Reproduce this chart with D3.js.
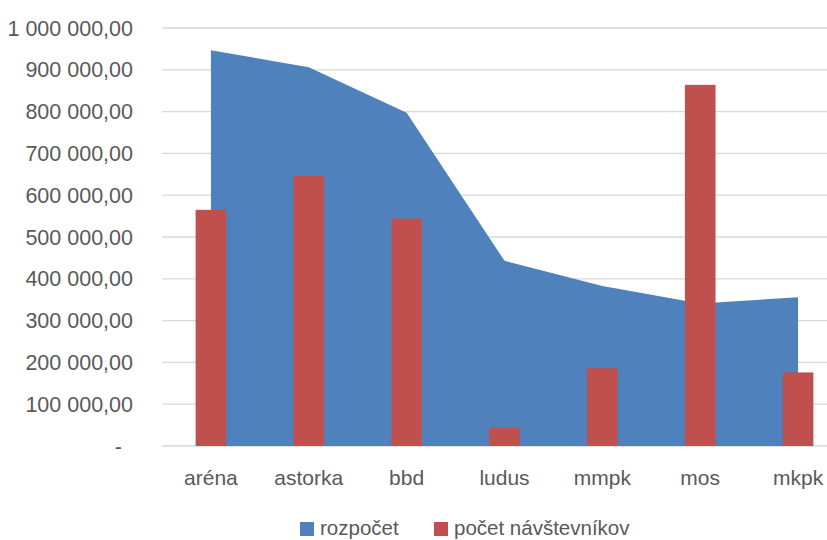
<!DOCTYPE html>
<html><head><meta charset="utf-8">
<script src="https://cdn.jsdelivr.net/npm/d3@7"></script>
<style>body{margin:0;background:#fff}svg{display:block}</style>
</head><body>
<script>
const categories = ["aréna","astorka","bbd","ludus","mmpk","mos","mkpk"];
const rozpocet = [947000, 906000, 797000, 443000, 383000, 341000, 356000];
const navstevnici = [565000, 646000, 544000, 44000, 186000, 864000, 176000];
const yTicks = [0,100000,200000,300000,400000,500000,600000,700000,800000,900000,1000000];
const seriesNames = ["rozpočet","počet návštevníkov"];
const colors = ["#4F81BD","#C0504D"];

const W = 827, H = 540;
const svg = d3.select("body").append("svg").attr("width",W).attr("height",H);
const font = "'Liberation Sans', Arial, sans-serif";

const x = d3.scaleBand().domain(categories).range([162, 847]).padding(0);
const y = d3.scaleLinear().domain([0,1000000]).range([446, 28]);

const fmt = v => v === 0 ? "-" : d3.format(",.2f")(v).replace(/,/g," ").replace(".",",");

// gridlines
svg.append("g").selectAll("line").data(yTicks).join("line")
  .attr("x1",162).attr("x2",W).attr("y1",d=>y(d)).attr("y2",d=>y(d))
  .attr("stroke","#D9D9D9").attr("stroke-width",1.3);

// y labels
svg.append("g").selectAll("text").data(yTicks).join("text")
  .attr("x",d=> d===0 ? 122 : 133).attr("y",d=>y(d)).attr("dy","0.35em")
  .attr("text-anchor","end").attr("font-family",font).attr("font-size",21.5)
  .attr("fill","#595959").text(fmt);

// area
const cx = c => x(c) + x.bandwidth()/2;
const area = d3.area().x((d,i)=>cx(categories[i])).y0(y(0)).y1(d=>y(d));
svg.append("path").datum(rozpocet).attr("d",area).attr("fill",colors[0]);

// bars
const bw = x.bandwidth()*0.313;
svg.append("g").selectAll("rect").data(navstevnici).join("rect")
  .attr("x",(d,i)=>cx(categories[i]) - bw/2).attr("width",bw)
  .attr("y",d=>y(d)).attr("height",d=>y(0)-y(d)).attr("fill",colors[1]);

// x labels
svg.append("g").selectAll("text").data(categories).join("text")
  .attr("x",d=>cx(d)).attr("y",485).attr("text-anchor","middle")
  .attr("font-family",font).attr("font-size",21).attr("fill","#595959").text(d=>d);

// legend
const leg = [{x:300, tx:320},{x:434, tx:454}];
leg.forEach((l,i)=>{
  svg.append("rect").attr("x",l.x).attr("y",522).attr("width",14).attr("height",14).attr("fill",colors[i]);
  svg.append("text").attr("x",l.tx).attr("y",535).attr("font-family",font).attr("font-size",20.5)
    .attr("fill","#595959").text(seriesNames[i]);
});
</script>
</body></html>
